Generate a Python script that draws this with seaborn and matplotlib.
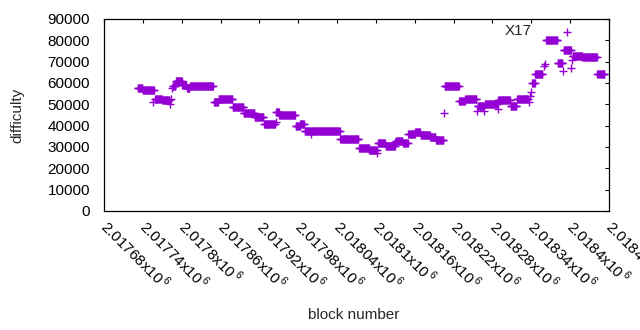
import numpy as np
import pandas as pd
import matplotlib
matplotlib.use('Agg')
import matplotlib.pyplot as plt
import seaborn as sns


# difficulty is flat over runs of blocks: (first block, last block, difficulty)
seg_start = [2017732, 2017740, 2017759, 2017770, 2017786, 2017791, 2017801, 2017808,
             2017813, 2017850, 2017857, 2017879, 2017896, 2017913, 2017927, 2017946,
             2017951, 2017977, 2017983, 2017990, 2018000, 2018045, 2018074, 2018090,
             2018103, 2018115, 2018131, 2018142, 2018150, 2018161, 2018169, 2018184,
             2018193, 2018206, 2018229, 2018238, 2018257, 2018268, 2018289, 2018308,
             2018318, 2018341, 2018346, 2018363, 2018381, 2018390, 2018404, 2018419,
             2018442]
seg_end = [2017739, 2017757, 2017769, 2017781, 2017790, 2017800, 2017807, 2017812,
           2017848, 2017856, 2017878, 2017895, 2017912, 2017926, 2017944, 2017950,
           2017975, 2017982, 2017989, 2017998, 2018044, 2018073, 2018089, 2018101,
           2018114, 2018129, 2018141, 2018149, 2018160, 2018168, 2018183, 2018192,
           2018204, 2018228, 2018237, 2018255, 2018266, 2018287, 2018307, 2018317,
           2018335, 2018345, 2018357, 2018380, 2018388, 2018401, 2018418, 2018441,
           2018453]
seg_diff = [57500, 56600, 52700, 51800, 58700, 60900, 58900, 57700,
            58500, 51000, 52400, 48600, 45900, 44000, 40700, 46300,
            44900, 39800, 40600, 37600, 37400, 33600, 29400, 28400,
            31900, 30300, 33000, 32000, 36100, 37200, 35500, 34900,
            33400, 58700, 51400, 52400, 49400, 50100, 51800, 49400,
            52300, 60000, 64000, 80000, 69200, 75300, 72600, 72000,
            64200]

# single outlying blocks
pt_block = [2017756, 2017782, 2017783, 2017785, 2017945, 2017976, 2017999, 2018102,
            2018130, 2018205, 2018256, 2018267, 2018288, 2018336, 2018338, 2018340,
            2018359, 2018361, 2018389, 2018395, 2018402, 2018403]
pt_diff = [51300, 50300, 52300, 57500, 41700, 39800, 36200, 27200,
           32300, 45800, 46700, 47000, 47800, 50900, 53900, 55900,
           68000, 68700, 65500, 83800, 66900, 70800]

x_ticks = [2017680, 2017740, 2017800, 2017860, 2017920, 2017980, 2018040,
           2018100, 2018160, 2018220, 2018280, 2018340, 2018400, 2018460]
x_ticklabels = ['2.01768', '2.01774', '2.0178', '2.01786', '2.01792', '2.01798',
                '2.01804', '2.0181', '2.01816', '2.01822', '2.01828', '2.01834',
                '2.0184', '2.01846']
y_ticks = [0, 10000, 20000, 30000, 40000, 50000, 60000, 70000, 80000, 90000]


def build_frame():
    blocks, diffs = [], []
    for s, e, d in zip(seg_start, seg_end, seg_diff):
        for b in range(s, e + 1):
            blocks.append(b)
            diffs.append(d)
    blocks += pt_block
    diffs += pt_diff
    return pd.DataFrame({'block': blocks, 'difficulty': diffs})


def main():
    df = build_frame()

    sns.set_style('white')
    plt.rcParams['font.family'] = ['Liberation Sans', 'DejaVu Sans']
    plt.rcParams['mathtext.fontset'] = 'custom'
    plt.rcParams['mathtext.rm'] = 'Liberation Sans'

    fig = plt.figure(figsize=(6.4, 3.3), dpi=100)
    ax = fig.add_axes([104 / 640, 1 - 211 / 330, 505 / 640, 192 / 330])

    sns.scatterplot(data=df, x='block', y='difficulty', marker='+', color='#9400D3',
                    s=30, linewidth=1.0, legend=False, ax=ax)

    ax.set_xlim(x_ticks[0], x_ticks[-1])
    ax.set_ylim(0, 90000)
    ax.set_xticks(x_ticks)
    ax.set_xticklabels([l + r'x10$^{\,\mathregular{6}}$' for l in x_ticklabels],
                       rotation=-45, ha='left', va='center', rotation_mode='anchor')
    ax.set_yticks(y_ticks)
    ax.set_yticklabels([str(v) for v in y_ticks])
    ax.tick_params(axis='both', direction='in', length=3, width=0.8, colors='black',
                   labelsize=11, top=True, right=True)
    ax.tick_params(axis='y', pad=10)
    ax.tick_params(axis='x', pad=9)
    for sp in ax.spines.values():
        sp.set_color('black')
        sp.set_linewidth(0.9)
    ax.set_xlabel('')
    ax.set_ylabel('')

    ax.text(0.8475, 0.935, 'X17', transform=ax.transAxes, ha='right', va='center',
            fontsize=11)
    fig.text(17 / 640, 1 - 115 / 330, 'difficulty', rotation=90, ha='center',
             va='center', fontsize=11)
    fig.text(354 / 640, 1 - 315 / 330, 'block number', ha='center', va='center',
             fontsize=11)

    fig.savefig('out.png', dpi=100)
    plt.close(fig)


if __name__ == '__main__':
    main()
